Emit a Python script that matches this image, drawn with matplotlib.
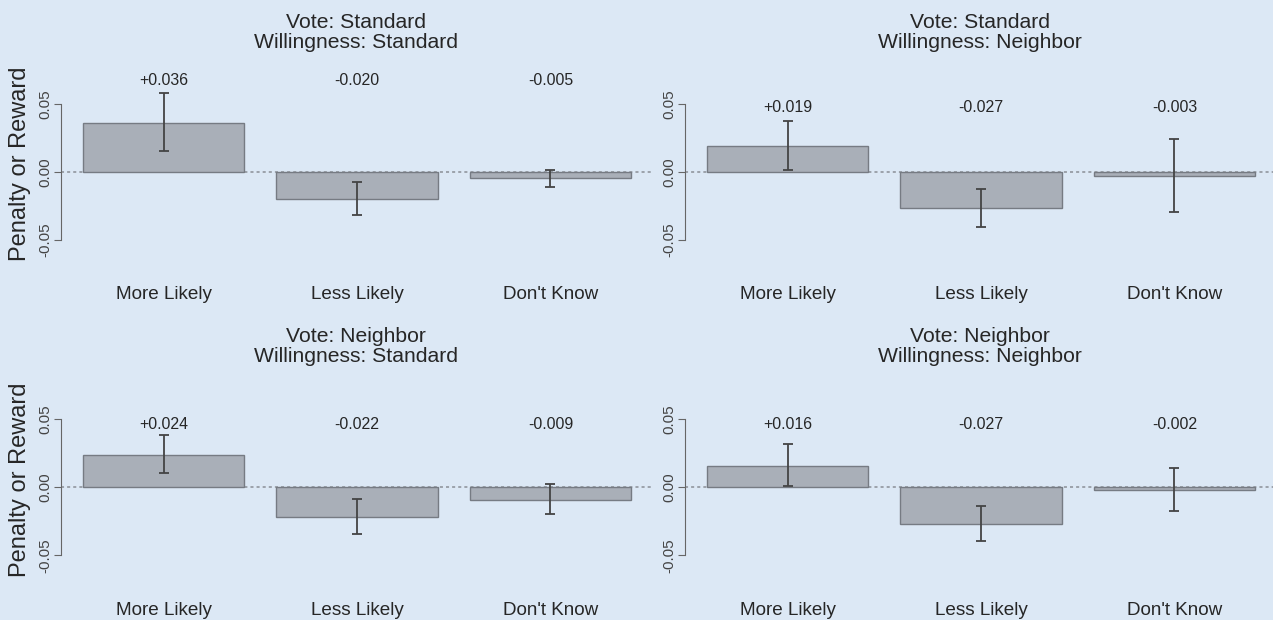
import matplotlib.pyplot as plt
import numpy as np

plt.rcParams['font.family'] = ['Liberation Sans', 'DejaVu Sans']

categories = ["More Likely", "Less Likely", "Don't Know"]
titles = [
    "Vote: Standard\nWillingness: Standard",
    "Vote: Standard\nWillingness: Neighbor",
    "Vote: Neighbor\nWillingness: Standard",
    "Vote: Neighbor\nWillingness: Neighbor",
]

est_vs_ws = [0.036, -0.020, -0.005]
lo_vs_ws = [0.0155, -0.032, -0.011]
hi_vs_ws = [0.0579, -0.0078, 0.0012]

est_vs_wn = [0.019, -0.027, -0.003]
lo_vs_wn = [0.0013, -0.0408, -0.030]
hi_vs_wn = [0.0372, -0.0128, 0.0239]

est_vn_ws = [0.024, -0.022, -0.009]
lo_vn_ws = [0.0106, -0.0347, -0.0197]
hi_vn_ws = [0.0386, -0.0086, 0.0024]

est_vn_wn = [0.016, -0.027, -0.002]
lo_vn_wn = [0.0012, -0.0397, -0.0175]
hi_vn_wn = [0.0315, -0.0138, 0.0143]

# height (data units) where the value labels sit in each panel
label_y = [0.067, 0.047, 0.046, 0.046]

panels = [
    (est_vs_ws, lo_vs_ws, hi_vs_ws),
    (est_vs_wn, lo_vs_wn, hi_vs_wn),
    (est_vn_ws, lo_vn_ws, hi_vn_ws),
    (est_vn_wn, lo_vn_wn, hi_vn_wn),
]

BG = '#dce8f5'
BAR = '#a9afb8'
EDGE = '#767b83'
TXT = '#262626'

W, H = 1273, 620
fig = plt.figure(figsize=(W / 100, H / 100), dpi=100, facecolor=BG)

# axes boxes in pixels: left, top, right, bottom
boxes = [
    (61, 69.7, 653, 266.9),
    (685, 69.7, 1277, 266.9),
    (61, 385.3, 653, 582.5),
    (685, 385.3, 1277, 582.5),
]
title_y = [32.5, 32.5, 346.5, 346.5]

x = np.arange(3) * 1.2 + 0.7

for i, (est, lo, hi) in enumerate(panels):
    l, t, r, b = boxes[i]
    ax = fig.add_axes([l / W, 1 - b / H, (r - l) / W, (b - t) / H])
    ax.set_facecolor('none')
    est = np.array(est)
    yerr = [est - np.array(lo), np.array(hi) - est]

    ax.axhline(0, color='#8a8f96', ls=(0, (2, 2)), lw=1.1, zorder=0)
    ax.bar(x, est, width=1.0, color=BAR, edgecolor=EDGE, linewidth=1.0, zorder=2)
    ax.errorbar(x, est, yerr=yerr, fmt='none', ecolor='#444444',
                elinewidth=1.3, capsize=3.8, capthick=1.3, zorder=3)
    for xi, v in zip(x, est):
        ax.text(xi, label_y[i], f"{v:+.3f}", ha='center', va='center',
                fontsize=11.4, color=TXT, clip_on=False)

    ax.set_xlim(0.064, 3.736)
    ax.set_ylim(-0.07, 0.075)
    for s in ['top', 'right', 'bottom']:
        ax.spines[s].set_visible(False)
    ax.spines['left'].set_bounds(-0.05, 0.05)
    ax.spines['left'].set_color('#666666')
    ax.set_yticks([-0.05, 0.0, 0.05])
    ax.set_yticklabels(['-0.05', '0.00', '0.05'], rotation=90, va='center')
    ax.tick_params(axis='y', length=5, color='#666666', labelsize=11,
                   labelcolor='#444444', pad=1.5)
    ax.set_xticks(x)
    ax.set_xticklabels(categories)
    ax.tick_params(axis='x', length=0, labelsize=13.6, labelcolor=TXT, pad=14)

    fig.text(((l + r) / 2 - 1) / W, 1 - title_y[i] / H, titles[i],
             ha='center', va='center', fontsize=15.2, color=TXT, linespacing=1.0)

fig.text(20 / W, 1 - 164 / H, "Penalty or Reward", rotation=90,
         ha='center', va='center', fontsize=17, color=TXT)
fig.text(20 / W, 1 - 480 / H, "Penalty or Reward", rotation=90,
         ha='center', va='center', fontsize=17, color=TXT)

fig.savefig("out.png", dpi=100, facecolor=BG)
